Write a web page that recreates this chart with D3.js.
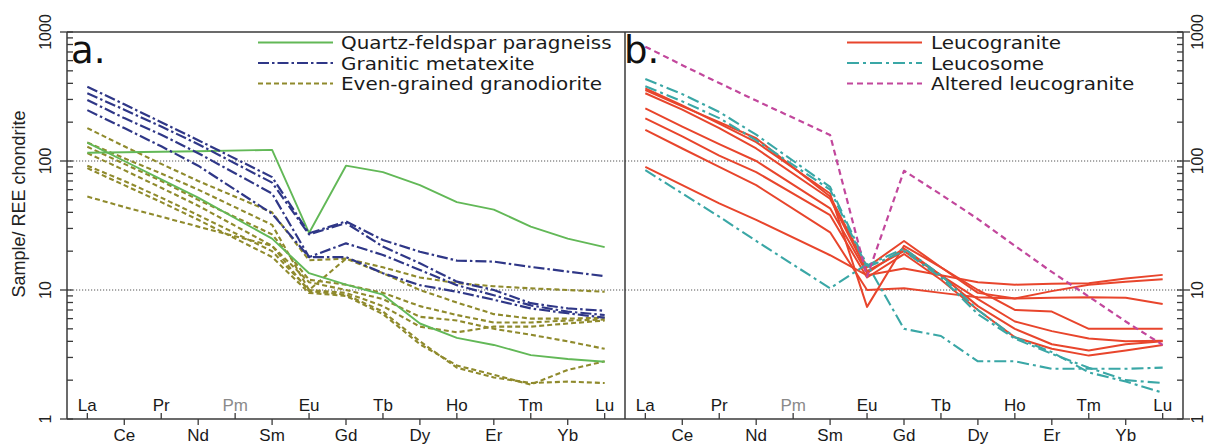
<!DOCTYPE html>
<html>
<head>
<meta charset="utf-8">
<script src="https://cdn.jsdelivr.net/npm/d3@7"></script>
<style>
  html, body { margin: 0; padding: 0; background: #fff; }
  svg { display: block; }
</style>
</head>
<body>
<svg id="chart" width="1207" height="444"></svg>
<script>
// ---- Data ----
const elements = ["La","Ce","Pr","Nd","Pm","Sm","Eu","Gd","Tb","Dy","Ho","Er","Tm","Yb","Lu"];
const yTickValues = [1, 10, 100, 1000];
const yTickLabels = ["1", "10", "100", "1000"];
const yTitle = "Sample/ REE chondrite";

// Panel a
const paragneiss = [
  [116, 117, 118, 119, null, 122, 27.7, 92, 82, 65, 48, 42, 31, 25, 21.5],
  [139, 100, 72, 52, null, 25, 13.5, 11, 9.2, 5.5, 4.25, 3.75, 3.13, 2.92, 2.78]
];
const metatexite = [
  [377, 275, 200, 145, null, 75, 27.5, 34, 24.4, 19.8, 16.9, 16.6, 15.1, 13.9, 12.8],
  [335, 250, 185, 135, null, 68, 27, 33, 21.7, 16.1, 11.6, 10, 7.9, 7.2, 6.9],
  [297, 215, 160, 115, null, 56, 18, 23, 18.7, 14.3, 10.9, 9.1, 7.6, 6.8, 6.4],
  [248, 180, 130, 92, null, 39, 18, 18, 13.5, 10.9, 9.7, 8.4, 7.2, 6.6, 6.1]
];
const granodiorite = [
  [180, 130, 95, 70, null, 40, 17, 17.5, 15, 12.5, 11.3, 10.7, 10.3, 10, 9.7],
  [139, 105, 80, 60, null, 32, 10, 17.5, 13.5, 10, 8, 6.5, 6, 6, 6.1],
  [129, 95, 70, 50, null, 27, 12, 11, 9.5, 7.5, 6.4, 5.6, 5.6, 5.8, 5.9],
  [115, 85, 62, 45, null, 22, 11.5, 10, 8.5, 6.2, 5.8, 5, 4.5, 4, 3.5],
  [92, 70, 52, 38, null, 20, 10, 9.5, 7.5, 5.2, 4.7, 5.2, 5.2, 5.5, 5.8],
  [88, 65, 48, 35, null, 18, 9.5, 9, 6.5, 3.8, 2.6, 2.2, 1.85, 2.4, 2.8],
  [53, 44, 37, 31, null, 22, 9.8, 9.2, 6.8, 4, 2.5, 2.1, 1.9, 1.95, 1.9]
];

// Panel b
const leucogranite = [
  [366, 270, 195, 140, null, 56, 7.4, 22, 15, 10, 7, 6.8, 5, 5, 5],
  [355, 265, 200, 150, null, 53, 15, 24, 15, 9.5, 8.6, 8.7, 8.8, 8.7, 7.8],
  [335, 250, 180, 125, null, 51, 14, 20, 13, 8.5, 5.7, 4.8, 4.2, 4.0, 4.05],
  [256, 185, 135, 100, null, 43, 13.5, 21, 13, 7.5, 5, 3.8, 3.4, 3.8, 4.0],
  [214, 155, 110, 82, null, 38, 12.5, 19, 12, 7, 4.3, 3.5, 3.1, 3.4, 3.75],
  [174, 125, 90, 65, null, 28, 10, 10.3, 9.5, 8.8, 8.6, 9.8, 11, 11.6, 12.1],
  [90, 65, 47, 35, null, 18.6, 13, 14.7, 13, 11.5, 11, 11.2, 11.3, 12.3, 13.1]
];
const leucosome = [
  [432, 330, 240, 160, null, 63, 15.5, 21, 13, 7, 4.3, 3.3, 2.3, 1.95, 1.6],
  [380, 290, 215, 145, null, 60, 15, 20, 12.5, 6.5, 4.2, 3.2, 2.5, 2.0, 1.9],
  [85, 56, 37, 24, null, 10.3, 15.9, 5.0, 4.4, 2.8, 2.8, 2.45, 2.45, 2.45, 2.5]
];
const alteredLeucogranite = [
  [770, 553, 402, 294, null, 159, 12.7, 84, 55, 35.5, 22, 13.8, 8.9, 5.7, 3.75]
];

const legendA = ["Quartz-feldspar paragneiss", "Granitic metatexite", "Even-grained granodiorite"];
const legendB = ["Leucogranite", "Leucosome", "Altered leucogranite"];

// ---- Styles ----
const styles = {
  paragneiss: { color: "#62b857", dash: null, width: 1.9 },
  metatexite: { color: "#2f3787", dash: "11,3,2.5,3", width: 2.2 },
  granodiorite: { color: "#8f8a2c", dash: "5,3", width: 2.1 },
  leucogranite: { color: "#e8452c", dash: null, width: 2 },
  leucosome: { color: "#3aa7a6", dash: "12,4,3,4", width: 2.1 },
  altered: { color: "#c2479c", dash: "6,4", width: 2.2 }
};

// ---- Layout ----
const svg = d3.select("#chart");
const plotTop = 32, plotBottom = 419;
const leftX = 67, midX = 625, rightX = 1183;
const y = d3.scaleLog().domain([1, 1000]).range([plotBottom, plotTop]);
const xA = d3.scaleLinear().domain([-0.55, 14.55]).range([leftX, midX]);
const xB = d3.scaleLinear().domain([-0.55, 14.55]).range([midX, rightX]);

const axisColor = "#3a3a3a";
const tickFont = "'Liberation Sans', Arial, sans-serif";
const legendFont = "'DejaVu Sans', Verdana, sans-serif";

// gridlines (dotted) at 10 and 100
svg.append("g").selectAll("line").data([10, 100]).join("line")
  .attr("x1", leftX).attr("x2", rightX)
  .attr("y1", d => y(d)).attr("y2", d => y(d))
  .attr("stroke", "#555").attr("stroke-width", 1)
  .attr("stroke-dasharray", "1.2,1.8");

// series drawing
function drawSeries(x, groups) {
  const line = d3.line()
    .x(d => x(d.i))
    .y(d => y(d.v));
  groups.forEach(([data, st]) => {
    const g = svg.append("g");
    data.forEach(arr => {
      const pts = arr.map((v, i) => ({ i, v })).filter(d => d.v != null);
      g.append("path")
        .attr("d", line(pts))
        .attr("fill", "none")
        .attr("stroke", st.color)
        .attr("stroke-width", st.width)
        .attr("stroke-dasharray", st.dash)
        .attr("stroke-linejoin", "round");
    });
  });
}

drawSeries(xA, [
  [granodiorite, styles.granodiorite],
  [paragneiss, styles.paragneiss],
  [metatexite, styles.metatexite]
]);
drawSeries(xB, [
  [leucogranite, styles.leucogranite],
  [leucosome, styles.leucosome],
  [alteredLeucogranite, styles.altered]
]);

// frame
const frame = svg.append("g").attr("stroke", axisColor).attr("stroke-width", 1.5);
frame.append("line").attr("x1", leftX).attr("x2", rightX).attr("y1", plotTop).attr("y2", plotTop);
frame.append("line").attr("x1", leftX).attr("x2", rightX).attr("y1", plotBottom).attr("y2", plotBottom);
frame.append("line").attr("x1", leftX).attr("x2", leftX).attr("y1", plotTop).attr("y2", plotBottom);
frame.append("line").attr("x1", midX).attr("x2", midX).attr("y1", plotTop).attr("y2", plotBottom);
frame.append("line").attr("x1", rightX).attr("x2", rightX).attr("y1", plotTop).attr("y2", plotBottom);

// y ticks
const minor = [];
[1, 10, 100].forEach(d => { for (let m = 2; m <= 9; m++) minor.push(m * d); });
const ticks = svg.append("g").attr("stroke", axisColor).attr("stroke-width", 1.3);
ticks.selectAll(".mnl").data(minor).join("line")
  .attr("x1", leftX).attr("x2", leftX + 6).attr("y1", d => y(d)).attr("y2", d => y(d));
ticks.selectAll(".mnr").data(minor).join("line")
  .attr("x1", rightX - 6).attr("x2", rightX).attr("y1", d => y(d)).attr("y2", d => y(d));
ticks.selectAll(".mjl").data(yTickValues).join("line")
  .attr("x1", leftX - 7).attr("x2", leftX + 6).attr("y1", d => y(d)).attr("y2", d => y(d));
ticks.selectAll(".mjr").data(yTickValues).join("line")
  .attr("x1", rightX - 6).attr("x2", rightX + 7).attr("y1", d => y(d)).attr("y2", d => y(d));

// y tick labels (rotated)
yTickValues.forEach((v, k) => {
  svg.append("text").attr("transform", `translate(51,${y(v)}) rotate(-90)`)
    .attr("text-anchor", "middle").attr("font-family", tickFont).attr("font-size", 16)
    .attr("fill", "#222").text(yTickLabels[k]);
  svg.append("text").attr("transform", `translate(1203,${y(v)}) rotate(-90)`)
    .attr("text-anchor", "middle").attr("font-family", tickFont).attr("font-size", 16)
    .attr("fill", "#222").text(yTickLabels[k]);
});

// y title
svg.append("text").attr("transform", `translate(25,204) rotate(-90)`)
  .attr("text-anchor", "middle").attr("font-family", tickFont).attr("font-size", 18)
  .attr("fill", "#222").text(yTitle);

// x axis ticks & labels
[xA, xB].forEach(x => {
  const g = svg.append("g");
  elements.forEach((el, i) => {
    const up = i % 2 === 0;
    g.append("line")
      .attr("x1", x(i)).attr("x2", x(i))
      .attr("y1", plotBottom).attr("y2", up ? plotBottom - 6 : plotBottom + 6)
      .attr("stroke", axisColor).attr("stroke-width", 1.3);
    g.append("text")
      .attr("x", x(i)).attr("y", up ? 411 : 441)
      .attr("text-anchor", "middle")
      .attr("font-family", tickFont).attr("font-size", 17)
      .attr("fill", el === "Pm" ? "#8a8a8a" : "#1a1a1a")
      .text(el);
  });
});

// panel labels
svg.append("text").attr("x", 71).attr("y", 63).attr("font-family", legendFont)
  .attr("font-size", 37).attr("fill", "#111").text("a.");
svg.append("text").attr("x", 624).attr("y", 63).attr("font-family", legendFont)
  .attr("font-size", 37).attr("fill", "#111").text("b.");

// legends (slightly condensed vertical size, stretched horizontally to keep widths)
function legend(items, stylesArr, x1, x2, tx) {
  items.forEach((label, k) => {
    const st = stylesArr[k];
    const base = 49 + k * 20.5;
    svg.append("line").attr("x1", x1).attr("x2", x2).attr("y1", base - 6.5).attr("y2", base - 6.5)
      .attr("stroke", st.color).attr("stroke-width", st.width)
      .attr("stroke-dasharray", st.dash);
    svg.append("text").attr("transform", `translate(${tx},${base}) scale(1.14,1)`)
      .attr("font-family", legendFont).attr("font-size", 17.5)
      .attr("fill", "#1a1a1a").text(label);
  });
}
legend(legendA, [styles.paragneiss, styles.metatexite, styles.granodiorite], 258, 333, 341);
legend(legendB, [styles.leucogranite, styles.leucosome, styles.altered], 847, 922, 931);
</script>
</body>
</html>
